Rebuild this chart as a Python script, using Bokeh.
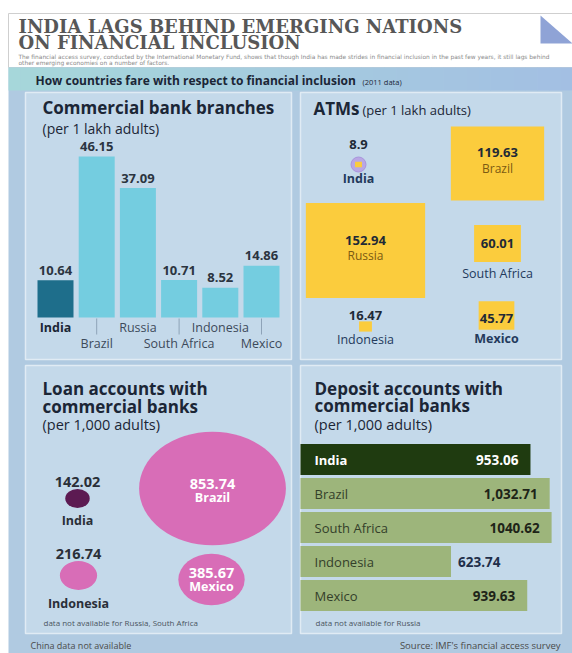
from bokeh.plotting import figure
from bokeh.models import Range1d
from bokeh.core.properties import value
from bokeh.embed import file_html
from bokeh.resources import INLINE

# ---------------- data ----------------
bank_countries = ["India", "Brazil", "Russia", "South Africa", "Indonesia", "Mexico"]
bank_branches = [10.64, 46.15, 37.09, 10.71, 8.52, 14.86]

atm_countries = ["India", "Brazil", "Russia", "South Africa", "Indonesia", "Mexico"]
atm_values = [8.9, 119.63, 152.94, 60.01, 16.47, 45.77]

loan_countries = ["India", "Brazil", "Indonesia", "Mexico"]
loan_values = [142.02, 853.74, 216.74, 385.67]

deposit_countries = ["India", "Brazil", "South Africa", "Indonesia", "Mexico"]
deposit_values = [953.06, 1032.71, 1040.62, 623.74, 939.63]
deposit_labels = ["953.06", "1,032.71", "1040.62", "623.74", "939.63"]

# ---------------- layout / style ----------------
SANS = "Open Sans"
SERIF = "DejaVu Serif"
DARK = "#1b2636"
NAVY = "#233a5c"
X0, X1, Y0, Y1 = 0, 572, 0, 653          # page pixels covered by the figure
W, H = X1 - X0, Y1 - Y0

p = figure(width=W, height=H, x_range=Range1d(X0, X1), y_range=Range1d(Y1, Y0),
           x_axis_type=None, y_axis_type=None, toolbar_location=None,
           output_backend="svg", min_border=0)
p.outline_line_color = None
p.background_fill_color = "white"
p.border_fill_color = "white"


def xr(origin, k):
    return Range1d((X0 - origin) / k, (X1 - origin) / k)


def yr_up(origin, k):
    return Range1d((origin - Y1) / k, (origin - Y0) / k)


BANK_BASE, BANK_K = 317, 3.49
ATM_OX, ATM_OY, ATM_KX, ATM_KY = 300, 359, 0.78, 0.62
LOAN_OX, LOAN_OY, LOAN_KX, LOAN_KY = 25, 633, 0.172, 0.133
DEP_OX, DEP_K = 300, 0.2413

p.extra_x_ranges = {"atm_x": xr(ATM_OX, ATM_KX), "loan_x": xr(LOAN_OX, LOAN_KX),
                    "dep_x": xr(DEP_OX, DEP_K)}
p.extra_y_ranges = {"bank_y": yr_up(BANK_BASE, BANK_K), "atm_y": yr_up(ATM_OY, ATM_KY),
                    "loan_y": yr_up(LOAN_OY, LOAN_KY)}


def T(x, y, s, size=13, color=DARK, bold=False, align="left", font=SANS,
      baseline="middle", xr_name="default", yr_name="default", xo=0, yo=0):
    p.text(x=[x], y=[y], text=[s], text_font=value(font), text_font_size=f"{size}px",
           text_font_style="bold" if bold else "normal", text_color=color,
           text_align=align, text_baseline=baseline, x_offset=xo, y_offset=yo,
           x_range_name=xr_name, y_range_name=yr_name)


def hexmix(c1, c2, t):
    a = [int(c1[i:i + 2], 16) for i in (1, 3, 5)]
    b = [int(c2[i:i + 2], 16) for i in (1, 3, 5)]
    return "#" + "".join(f"{round(a[i] + (b[i] - a[i]) * t):02x}" for i in range(3))


# ---------------- header ----------------
p.quad(left=[8], right=[572], top=[13], bottom=[67], fill_color="white",
       line_color="#cfcfcf", line_width=1)
p.patch(x=[540, 540, 572], y=[15, 43, 43], fill_color="#8fa3d6", line_color=None)
T(18, 26, "INDIA LAGS BEHIND EMERGING NATIONS", 18, "#575757", True, font=SERIF)
T(18, 42, "ON  FINANCIAL INCLUSION", 18, "#575757", True, font=SERIF)
T(18, 56, "The financial access survey, conducted by the International Monetary Fund, shows that though "
          "India has made strides in financial inclusion in the past few years, it still lags behind",
  5.9, "#8a8a8a", font="DejaVu Sans")
T(18, 62, "other emerging economies on a number of factors.", 5.9, "#8a8a8a", font="DejaVu Sans")

# ---------------- body background + banner ----------------
p.quad(left=[8], right=[572], top=[67], bottom=[653], fill_color="#b0cae1", line_color=None)
N = 48
for i in range(N):
    l = 8 + (572 - 8) * i / N
    r = 8 + (572 - 8) * (i + 1) / N
    p.quad(left=[l], right=[r + 0.5], top=[67], bottom=[90],
           fill_color=hexmix("#a6d7da", "#a3bfe3", i / (N - 1)), line_color=None)
T(35, 80, "How countries fare with respect to financial inclusion", 12, DARK, True)
T(362, 81, "(2011 data)", 7.5, DARK)

# panels
for (l, r, t, b) in [(25, 291, 92, 359), (300, 561, 92, 359), (25, 291, 365, 633), (300, 561, 365, 633)]:
    p.quad(left=[l], right=[r], top=[t], bottom=[b], fill_color="#c4d9ea",
           line_color="#e0ebf4", line_width=1.5)

# ---------------- commercial bank branches ----------------
T(42, 107, "Commercial bank branches", 17, DARK, True)
T(42, 128, "(per 1 lakh adults)", 14, DARK)
bank_x = [55 + 41.2 * i for i in range(len(bank_branches))]
bank_colors = ["#1e6e8b" if c == "India" else "#74cde0" for c in bank_countries]
p.vbar(x=bank_x, width=36, bottom=0, top=bank_branches, fill_color=bank_colors,
       line_color=None, y_range_name="bank_y")
for x, v in zip(bank_x, bank_branches):
    T(x, v, f"{v:.2f}", 13, "#2b3440", True, "center", yr_name="bank_y", yo=-10)
for i, (x, c) in enumerate(zip(bank_x, bank_countries)):
    if i % 2 == 0:
        T(x, 327, c, 12.5, "#1b2636" if c == "India" else "#3d4a5a", c == "India", "center")
    else:
        p.segment(x0=[x], y0=[318], x1=[x], y1=[334], line_color="#8ea3b8", line_width=1)
        T(x, 343, c, 12.5, "#3d4a5a", False, "center")

# ---------------- ATMs ----------------
T(313, 108, "ATMs", 17, DARK, True)
T(362, 109, "(per 1 lakh adults)", 13, DARK)
atm_cx = [358, 497, 365, 497, 365, 496]
atm_cy = [164, 163, 250, 243, 326, 315]
p.scatter(x=[atm_cx[0]], y=[atm_cy[0]], size=15, marker="circle", fill_color="#b9a7e4",
          line_color="#a995dc", line_width=1)
p.rect(x=[(cx - ATM_OX) / ATM_KX for cx in atm_cx],
       y=[(ATM_OY - cy) / ATM_KY for cy in atm_cy],
       width=atm_values, height=atm_values, fill_color="#fbcc3d", line_color=None,
       x_range_name="atm_x", y_range_name="atm_y")
# labels: (value dy, country dy, country color, bold country)
atm_lab = [(-20, 14, NAVY, True), (-11, 5, "#7c5a12", False), (-10, 5, "#7c5a12", False),
           (0, 30, NAVY, False), (-11, 13, NAVY, False), (3, 23, NAVY, True)]
for cx, cy, v, c, (dv, dc, col, bc) in zip(atm_cx, atm_cy, atm_values, atm_countries, atm_lab):
    T(cx, cy + dv, f"{v:g}" if v < 10 else f"{v:.2f}", 13, "#1f2a36", True, "center")
    T(cx, cy + dc, c, 12.5 if c not in ("Brazil", "Russia") else 12, col, bc, "center")

# ---------------- loan accounts ----------------
T(42, 388, "Loan accounts with", 17, DARK, True)
T(42, 406, "commercial banks", 17, DARK, True)
T(42, 424, "(per 1,000 adults)", 14.5, DARK)
loan_cx = [77, 212, 78, 211]
loan_cy = [498, 488, 575, 579]
loan_colors = ["#5c1a52" if c == "India" else "#d86db7" for c in loan_countries]
p.ellipse(x=[(cx - LOAN_OX) / LOAN_KX for cx in loan_cx],
          y=[(LOAN_OY - cy) / LOAN_KY for cy in loan_cy],
          width=loan_values, height=loan_values, fill_color=loan_colors, line_color=None,
          x_range_name="loan_x", y_range_name="loan_y")
loan_lab = [(-17, 22, "#2a2f38"), (-5, 9, "white"), (-22, 28, "#2a2f38"), (-7, 7, "white")]
for cx, cy, v, c, (dv, dc, col) in zip(loan_cx, loan_cy, loan_values, loan_countries, loan_lab):
    T(cx, cy + dv, f"{v:.2f}", 14.5, col, True, "center")
    T(cx, cy + dc, c, 12.5, col, True, "center")
T(43, 622, "data not available for Russia, South Africa", 8, "#4a5560")

# ---------------- deposit accounts ----------------
T(314, 388, "Deposit accounts with", 17, DARK, True)
T(314, 405, "commercial banks", 17, DARK, True)
T(314, 424, "(per 1,000 adults)", 14.5, DARK)
dep_y = [459 + 34 * i for i in range(len(deposit_values))]
dep_colors = ["#1f3b10" if c == "India" else "#9db57b" for c in deposit_countries]
p.hbar(y=dep_y, height=31, left=0, right=deposit_values, fill_color=dep_colors,
       line_color=None, x_range_name="dep_x")
vmax = max(deposit_values)
for y, v, c, lab in zip(dep_y, deposit_values, deposit_countries, deposit_labels):
    india = c == "India"
    T(314, y, c, 13, "white" if india else "#34402a", india)
    if v < 0.7 * vmax:
        T(v, y, lab, 13.5, "#1f2f4a", True, "left", xr_name="dep_x", xo=7)
    else:
        T(v, y, lab, 13.5, "white" if india else "#1e2418", True, "right", xr_name="dep_x", xo=-12)
T(315, 622, "data not available for Russia", 8, "#4a5560")

# ---------------- footer ----------------
T(30, 645, "China data not available", 9, "#4a4a4a")
T(560, 645, "Source: IMF's financial access survey", 9.5, "#4a4a4a", align="right")

open("out.html", "w").write(file_html(p, INLINE))
